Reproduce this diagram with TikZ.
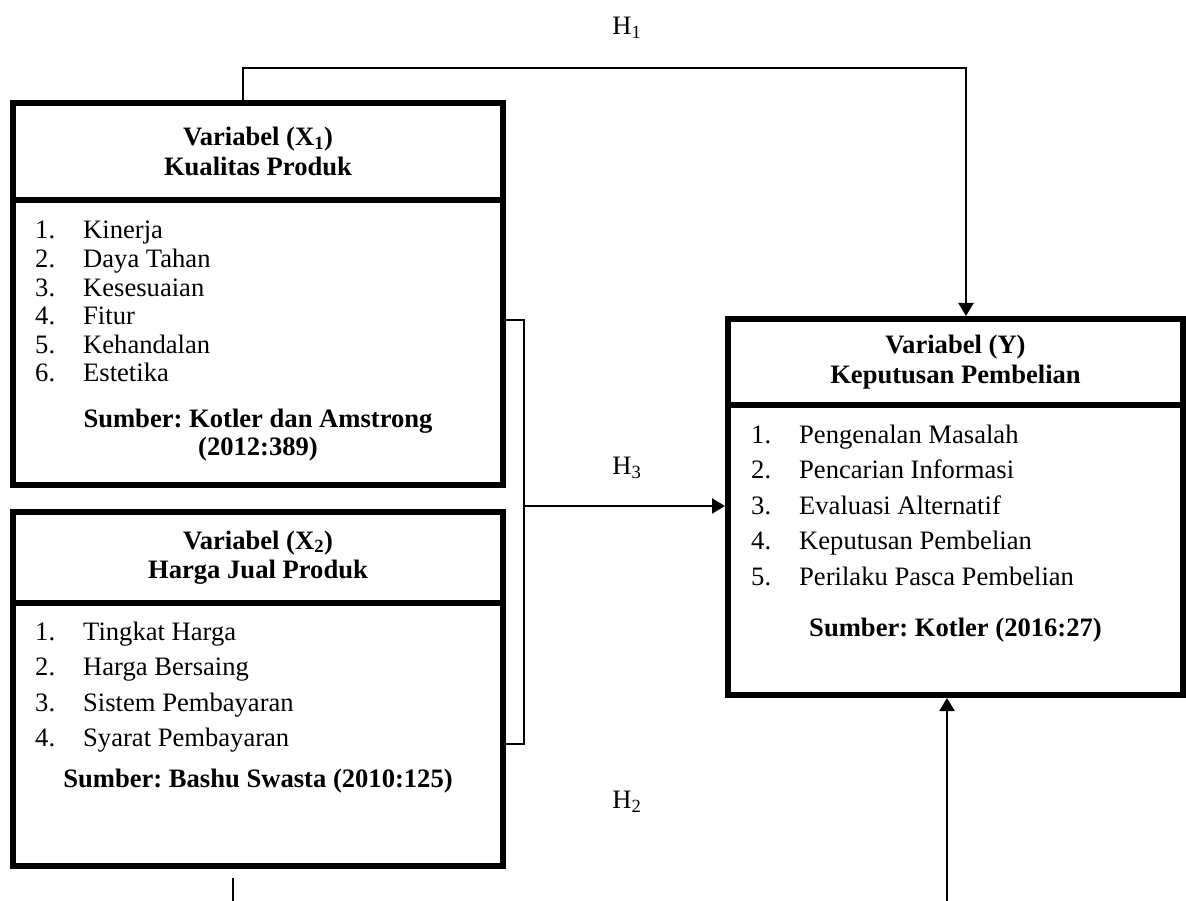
\documentclass[tikz,border=0pt]{standalone}
\usepackage{fontspec}
\setmainfont{Liberation Serif}
\usepackage{tikz}
\usetikzlibrary{arrows.meta}
\usetikzlibrary{positioning}
\frenchspacing
\tikzset{
    head/.style={
           rectangle,
           draw=black, line width=6pt,
           outer sep=0pt,
           inner sep=0pt,
           minimum width=490pt,
           align=center,
           font=\fontsize{26.6}{29.5}\selectfont\bfseries,
           },
    body/.style={
           rectangle,
           draw=black, line width=6pt,
           outer sep=0pt,
           inner sep=0pt,
           minimum width=490pt,
           },
    items/.style={
           anchor=base west,
           inner sep=0pt,
           font=\fontsize{26.6}{35.5}\selectfont,
           },
    source/.style={
           anchor=base,
           inner sep=0pt,
           font=\fontsize{26.6}{28}\selectfont\bfseries,
           },
    conn/.style={->, line width=2.2pt, shorten >=3pt},
    bracket/.style={line width=1.4pt},
}

\begin{document}
\begin{tikzpicture}
[
>={Triangle[length=13pt,width=15pt]},
x=1pt,y=-1pt,
font=\fontsize{26.6}{30}\selectfont
]
\useasboundingbox (0,0) rectangle (1186,901);

 % X1 box: header, then indicators below it
 \node[head, minimum height=97pt] (X1HEAD) at (258,151.5)
 {%
Variabel (X\textsubscript{1})\\Kualitas Produk
 };
 \node[body, minimum height=285pt, below=0pt of X1HEAD] (X1BODY) {};

 \node[items, font=\fontsize{26.6}{28.6}\selectfont] (X1LIST) at (35,239)
 {%
 \begin{tabular}[t]{@{}p{48pt}@{}l@{}}
  1. & Kinerja\\
  2. & Daya Tahan\\
  3. & Kesesuaian\\
  4. & Fitur\\
  5. & Kehandalan\\
  6. & Estetika
 \end{tabular}
 };
 \node[source] (X1SRC) at (258,427)
 {%
 \begin{tabular}[t]{@{}c@{}}
  Sumber: Kotler dan Amstrong\\
  (2012:389)
 \end{tabular}
 };

 % X2 box
 \node[head, minimum height=91pt] (X2HEAD) at (258,557.5)
 {%
Variabel (X\textsubscript{2})\\Harga Jual Produk
 };
 \node[body, minimum height=263pt, below=0pt of X2HEAD] (X2BODY) {};

 \node[items] (X2LIST) at (35,640)
 {%
 \begin{tabular}[t]{@{}p{48pt}@{}l@{}}
  1. & Tingkat Harga\\
  2. & Harga Bersaing\\
  3. & Sistem Pembayaran\\
  4. & Syarat Pembayaran
 \end{tabular}
 };
 \node[source] (X2SRC) at (258,787)
 {%
Sumber: Bashu Swasta (2010:125)
 };

 % Y box
 \node[head, minimum width=455pt, minimum height=86pt] (YHEAD) at (955.5,362)
 {%
Variabel (Y)\\Keputusan Pembelian
 };
 \node[body, minimum width=455pt, minimum height=290pt, below=0pt of YHEAD] (YBODY) {};

 \node[items] (YLIST) at (751,443)
 {%
 \begin{tabular}[t]{@{}p{48pt}@{}l@{}}
  1. & Pengenalan Masalah\\
  2. & Pencarian Informasi\\
  3. & Evaluasi Alternatif\\
  4. & Keputusan Pembelian\\
  5. & Perilaku Pasca Pembelian
 \end{tabular}
 };
 \node[source] (YSRC) at (955.5,636)
 {%
Sumber: Kotler (2016:27)
 };

 % hypothesis labels
 \node (H1LBL) at (627,28) {H\textsubscript{1}};
 \node (H3LBL) at (627,468) {H\textsubscript{3}};
 \node (H2LBL) at (627,802) {H\textsubscript{2}};

 % H1: X1 to Y over the top
 \coordinate (H1TOP) at (600,68);
 \draw[conn] ([xshift=-15pt]X1HEAD.north) |- (H1TOP) -| ([xshift=10.5pt]YHEAD.north);

 % H3: bracket joining X1 and X2, then into Y
 \coordinate (BRTOP) at (524,320);
 \coordinate (BRBOT) at (524,744);
 \coordinate (BRMID) at (524,506);
 \draw[bracket] (X1BODY.east |- BRTOP) -- (BRTOP) -- (BRBOT) -- (X2BODY.east |- BRBOT);
 \draw[conn] (BRMID) -- (YBODY.west |- BRMID);

 % H2: X2 to Y under the bottom (cut off by the page)
 \coordinate (H2START) at (233,878);
 \coordinate (H2LOW) at (600,940);
 \begin{scope}
 \clip (0,0) rectangle (1186,901);
 \draw[conn] (H2START) |- (H2LOW) -| ([xshift=-8.5pt]YBODY.south);
 \end{scope}
\end{tikzpicture}
\end{document}
